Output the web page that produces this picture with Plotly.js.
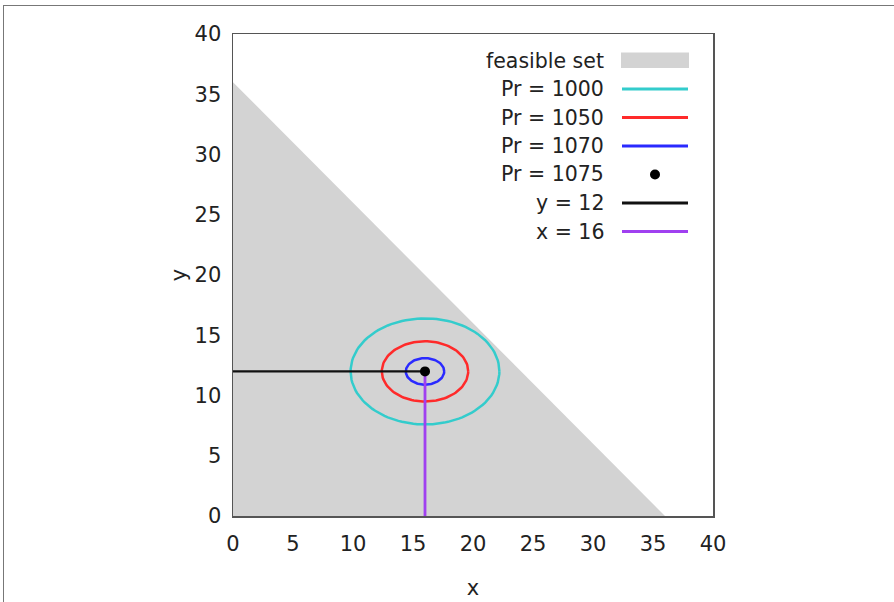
<!DOCTYPE html>
<html>
<head>
<meta charset="utf-8">
<script src="https://cdn.plot.ly/plotly-3.0.1.min.js"></script>
<style>
  html, body { margin: 0; padding: 0; background: #fff; }
  #frame { position: absolute; left: 3px; top: 5px; width: 900px; height: 620px;
           border-top: 1.5px solid #777; border-left: 1.5px solid #777; pointer-events: none; }
  #chart { position: absolute; left: 0; top: 0; width: 894px; height: 602px; }
</style>
</head>
<body>
<div id="chart"></div>
<div id="frame"></div>
<script>
// ---- data ----
const feasX = [0, 36, 0, 0];
const feasY = [0, 0, 36, 0];
const levelNames = ['Pr = 1000', 'Pr = 1050', 'Pr = 1070'];
const levelColors = ['#33cccc', '#ff2a2a', '#2a2aff'];
const centerX = 16, centerY = 12;
const semiX = [6.2, 3.6, 1.6];
const semiY = [4.4, 2.5, 1.1];
const optX = [16];
const optY = [12];
const hLineX = [0, 16];
const hLineY = [12, 12];
const vLineX = [16, 16];
const vLineY = [0, 12];
const xTicks = [0, 5, 10, 15, 20, 25, 30, 35, 40];
const yTicks = [0, 5, 10, 15, 20, 25, 30, 35, 40];
const legendLabels = ['feasible set', 'Pr = 1000', 'Pr = 1050', 'Pr = 1070', 'Pr = 1075', 'y = 12', 'x = 16'];

const FONT = 'DejaVu Sans, Verdana, sans-serif';
const traces = [];
traces.push({x: feasX, y: feasY, mode: 'lines', fill: 'toself', fillcolor: '#d3d3d3',
  line: {width: 0, color: '#d3d3d3'}, name: 'feasible set', hoverinfo: 'skip'});

for (let i = 0; i < semiX.length; i++) {
  const ex = [], ey = [];
  for (let k = 0; k <= 120; k++) {
    const t = 2 * Math.PI * k / 120;
    ex.push(centerX + semiX[i] * Math.cos(t));
    ey.push(centerY + semiY[i] * Math.sin(t));
  }
  traces.push({x: ex, y: ey, mode: 'lines', line: {color: levelColors[i], width: 2.5}, name: levelNames[i]});
}
traces.push({x: hLineX, y: hLineY, mode: 'lines', line: {color: '#111', width: 2.4}, name: 'y = 12'});
traces.push({x: vLineX, y: vLineY, mode: 'lines', line: {color: '#a040f0', width: 2.8}, name: 'x = 16'});
traces.push({x: optX, y: optY, mode: 'markers', marker: {color: '#000', size: 10}, name: 'Pr = 1075'});

// custom gnuplot-style legend (text right, sample on the right side)
const X0 = 233, Y0 = 516, PW = 480, PH = 482;
const px = v => (v - X0) / PW;
const py = v => (Y0 - v) / PH;
const rowY = [60.5, 89, 117.5, 146, 174.5, 203, 231.5];
const annotations = legendLabels.map((t, i) => ({
  text: t, xref: 'paper', yref: 'paper', x: px(606), y: py(rowY[i]),
  xanchor: 'right', yanchor: 'middle', showarrow: false,
  font: {family: FONT, size: 20.5, color: '#222'}
}));
const shapes = [];
shapes.push({type: 'rect', xref: 'paper', yref: 'paper', x0: px(621), x1: px(689),
  y0: py(68), y1: py(52.5), fillcolor: '#d3d3d3', line: {width: 0}});
const sampleColors = ['#33cccc', '#ff2a2a', '#2a2aff', null, '#111', '#a040f0'];
for (let i = 1; i < legendLabels.length; i++) {
  const c = sampleColors[i - 1];
  if (c === null) {
    shapes.push({type: 'circle', xref: 'paper', yref: 'paper', x0: px(650), x1: px(660),
      y0: py(rowY[i] + 5), y1: py(rowY[i] - 5), fillcolor: '#000', line: {width: 0}});
  } else {
    shapes.push({type: 'line', xref: 'paper', yref: 'paper', x0: px(622), x1: px(688),
      y0: py(rowY[i]), y1: py(rowY[i]), line: {color: c, width: 2.8}});
  }
}

const axisCommon = {
  showgrid: false, zeroline: false, showline: true, mirror: true,
  linecolor: '#555', linewidth: 1.5, ticks: '',
  tickfont: {family: FONT, size: 21, color: '#222'}, range: [0, 40], fixedrange: true
};
const layout = {
  width: 894, height: 602,
  margin: {l: 233, r: 181, t: 34, b: 86},
  paper_bgcolor: 'rgba(0,0,0,0)', plot_bgcolor: '#fff',
  showlegend: false,
  xaxis: Object.assign({}, axisCommon, {tickvals: xTicks, ticktext: xTicks.map(String),
    ticklabelstandoff: 8,
    title: {text: 'x', font: {family: FONT, size: 21, color: '#222'}, standoff: 25}}),
  yaxis: Object.assign({}, axisCommon, {tickvals: yTicks, ticktext: yTicks.map(String),
    ticklabelstandoff: 6,
    title: {text: 'y', font: {family: FONT, size: 21, color: '#222'}, standoff: 2}}),
  annotations: annotations,
  shapes: shapes
};
Plotly.newPlot('chart', traces, layout, {displayModeBar: false, staticPlot: true});
</script>
</body>
</html>
